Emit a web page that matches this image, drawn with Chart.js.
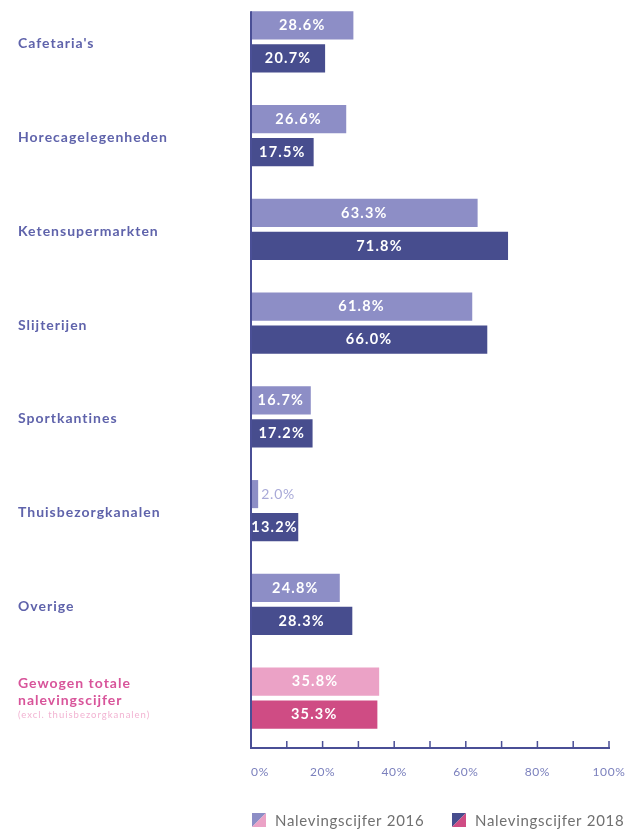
<!DOCTYPE html>
<html><head><meta charset="utf-8">
<script src="https://cdn.jsdelivr.net/npm/chart.js@4"></script>
<style>html,body{margin:0;padding:0;background:#fff;overflow:hidden;width:627px;height:833px}#wrap{position:absolute;left:0;top:-5px;width:627px;height:838px}</style>
</head><body><div id="wrap"><canvas id="c" width="627" height="838"></canvas></div>
<script>
const categories = ["Cafetaria's","Horecagelegenheden","Ketensupermarkten","Slijterijen","Sportkantines","Thuisbezorgkanalen","Overige","Gewogen totale nalevingscijfer"];
const values2016 = [28.6,26.6,63.3,61.8,16.7,2.0,24.8,35.8];
const values2018 = [20.7,17.5,71.8,66.0,17.2,13.2,28.3,35.3];
const seriesNames = ["Nalevingscijfer 2016","Nalevingscijfer 2018"];
const xTicks = ["0%","20%","40%","60%","80%","100%"];
const totalSubLabel = "(excl. thuisbezorgkanalen)";

const OFF = 5; // canvas is shifted up by this many px
const FONT = "Lato, 'Open Sans', sans-serif";
const C16 = '#8d8ec6', C18 = '#474d8e', P16 = '#eba2c6', P18 = '#cf4c84';
const LABEL = '#5f63ab', PINK = '#d8549a';

const colors16 = categories.map((c,i)=> i===categories.length-1 ? P16 : C16);
const colors18 = categories.map((c,i)=> i===categories.length-1 ? P18 : C18);

const overlay = {
  id:'overlay',
  afterDatasetsDraw(chart){
    const ctx = chart.ctx, ca = chart.chartArea, x = chart.scales.x, y = chart.scales.y;
    ctx.save();
    const firstBar = chart.getDatasetMeta(0).data[0];
    ctx.strokeStyle = '#4a4f96'; ctx.lineWidth = 2;
    const by = ca.bottom + 3;
    ctx.beginPath(); ctx.moveTo(ca.left, firstBar.y - firstBar.height/2); ctx.lineTo(ca.left, by); ctx.stroke();
    ctx.beginPath(); ctx.moveTo(ca.left-1, by); ctx.lineTo(x.getPixelForValue(100)+1, by); ctx.stroke();
    ctx.lineWidth = 1.5;
    for (let v=10; v<=100; v+=10){
      const px = x.getPixelForValue(v);
      ctx.beginPath(); ctx.moveTo(px, by); ctx.lineTo(px, by-7); ctx.stroke();
    }
    // x tick labels
    ctx.fillStyle = '#7b80bd'; ctx.font = '12px ' + FONT; ctx.letterSpacing = '0.6px';
    ctx.textAlign='center'; ctx.textBaseline='middle';
    xTicks.forEach((t,i)=>{ ctx.fillText(t, x.getPixelForValue(i*20) + (i===0?9:0), by+24); });
    // category labels
    categories.forEach((c,i)=>{
      const py = y.getPixelForValue(i) + 2;
      ctx.textAlign='left';
      if (i===categories.length-1){
        ctx.fillStyle = PINK; ctx.font = 'bold 14px ' + FONT; ctx.letterSpacing = '1px';
        ctx.fillText('Gewogen totale', 18, py-17);
        ctx.fillText('nalevingscijfer', 18, py);
        ctx.fillStyle = '#f2b3d2'; ctx.font = '9.5px ' + FONT; ctx.letterSpacing = '1px';
        ctx.fillText(totalSubLabel, 18, py+15);
      } else {
        ctx.fillStyle = LABEL; ctx.font = 'bold 14px ' + FONT; ctx.letterSpacing = '1px';
        ctx.fillText(c, 18, py);
      }
    });
    // value labels
    [values2016, values2018].forEach((vals,d)=>{
      const meta = chart.getDatasetMeta(d);
      meta.data.forEach((bar,i)=>{
        const txt = vals[i].toFixed(1) + '%';
        if (vals[i] < 8){
          ctx.fillStyle = '#a9aad8'; ctx.font = '14px ' + FONT; ctx.letterSpacing = '0.8px'; ctx.textAlign='left';
          ctx.fillText(txt, bar.x + 3, bar.y);
        } else {
          ctx.fillStyle = '#fff'; ctx.font = 'bold 14.5px ' + FONT; ctx.letterSpacing = '1.2px'; ctx.textAlign='center';
          ctx.fillText(txt, (ca.left + bar.x)/2, bar.y);
        }
      });
    });
    // legend
    const items = [{x:252, c1:C16, c2:P16},{x:452, c1:C18, c2:P18}];
    const ly = 813 + OFF, s = 14;
    items.forEach((it,i)=>{
      ctx.fillStyle = it.c1;
      ctx.beginPath(); ctx.moveTo(it.x, ly); ctx.lineTo(it.x+s, ly); ctx.lineTo(it.x, ly+s); ctx.closePath(); ctx.fill();
      ctx.fillStyle = it.c2;
      ctx.beginPath(); ctx.moveTo(it.x+s, ly); ctx.lineTo(it.x+s, ly+s); ctx.lineTo(it.x, ly+s); ctx.closePath(); ctx.fill();
      ctx.fillStyle = '#707070'; ctx.font = '15px ' + FONT; ctx.letterSpacing = '0.7px'; ctx.textAlign='left';
      ctx.fillText(seriesNames[i], it.x + 23, ly + s/2 + 1);
    });
    ctx.restore();
  }
};

new Chart(document.getElementById('c'), {
  type:'bar',
  data:{ labels: categories, datasets:[
    {label: seriesNames[0], data: values2016, backgroundColor: colors16, categoryPercentage:0.705, barPercentage:0.85},
    {label: seriesNames[1], data: values2018, backgroundColor: colors18, categoryPercentage:0.705, barPercentage:0.85}
  ]},
  options:{
    indexAxis:'y', responsive:false, animation:false,
    layout:{padding:{left:251, right:18, top:0, bottom:88}},
    plugins:{legend:{display:false}, tooltip:{enabled:false}},
    scales:{
      x:{min:0, max:100, display:false},
      y:{display:false}
    }
  },
  plugins:[overlay]
});
</script></body></html>
